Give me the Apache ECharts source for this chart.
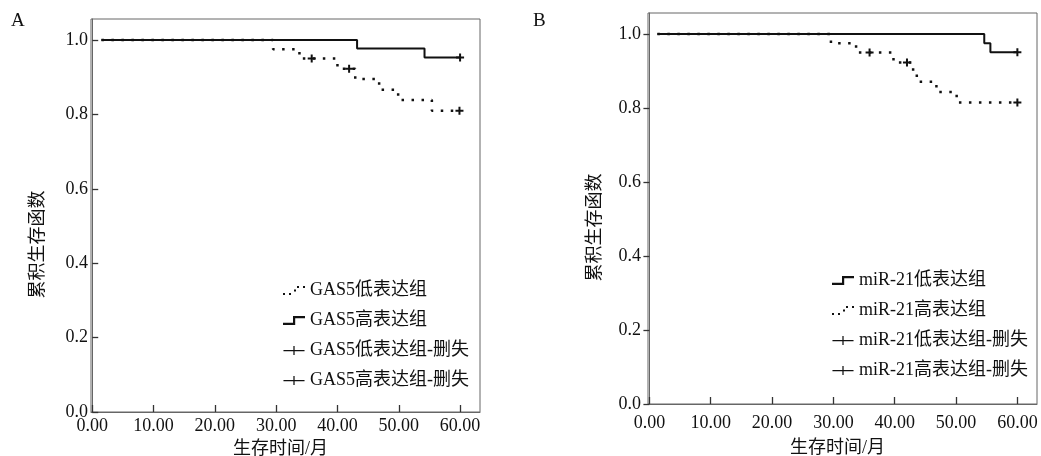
<!DOCTYPE html>
<html><head><meta charset="utf-8">
<script src="https://cdn.jsdelivr.net/npm/echarts@6/dist/echarts.min.js"></script>
<style>html,body{margin:0;padding:0;background:#fff}#c{width:1041px;height:456px}</style>
</head><body><div id="c"></div>
<script>
// ---- tick labels ----
const xTickValues = [0, 10, 20, 30, 40, 50, 60];
const yTickValues = [0, 0.2, 0.4, 0.6, 0.8, 1.0];

// ---- Panel A: GAS5 ----
const gasLowTime = [1.5, 29.5, 33.8, 40.0, 42.9, 46.8, 49.9, 55.4, 59.9];
const gasLowSurv = [1.0, 0.975, 0.950, 0.923, 0.895, 0.866, 0.839, 0.810, 0.810];
const gasHighTime = [1.5, 43.2, 54.2, 60.0];
const gasHighSurv = [1.0, 0.977, 0.953, 0.953];
const gasLowCensTime = [35.8, 41.9, 59.9];
const gasLowCensSurv = [0.950, 0.923, 0.810];
const gasHighCensTime = [60.0];
const gasHighCensSurv = [0.953];

// ---- Panel B: miR-21 ----
const mirLowTime = [1.3, 54.6, 55.6, 60.0];
const mirLowSurv = [1.0, 0.975, 0.951, 0.951];
const mirHighTime = [1.3, 29.6, 33.7, 39.8, 43.0, 43.6, 46.8, 50.1, 60.0];
const mirHighSurv = [1.0, 0.975, 0.950, 0.923, 0.897, 0.871, 0.843, 0.815, 0.815];
const mirLowCensTime = [60.0];
const mirLowCensSurv = [0.951];
const mirHighCensTime = [35.9, 42.0, 60.0];
const mirHighCensSurv = [0.950, 0.923, 0.815];

const namesA = ['GAS5低表达组', 'GAS5高表达组', 'GAS5低表达组-删失', 'GAS5高表达组-删失'];
const namesB = ['miR-21低表达组', 'miR-21高表达组', 'miR-21低表达组-删失', 'miR-21高表达组-删失'];

const FONT = "'Liberation Serif', 'Noto Sans CJK SC', serif";
const INK = '#111';
const BOX = '#666';

const zip = (a, b) => a.map((v, i) => [v, b[i]]);

const PLUS = 'path://M3,0H5V3H8V5H5V8H3V5H0V3H3Z';
const ICON_SOLID = 'path://M0,6.8H10V0H22V2.2H12.2V9H0Z';
const ICON_DOT = 'path://M0,7h2v2h-2z M6,7h2v2h-2z M11,3.5h2v2h-2z M14,0h2v2h-2z M20,0h2v2h-2z';
const ICON_CENS = 'path://M0,4.1H22V5.4H0Z M10.35,0H11.65V9.4H10.35Z';

function xAxisCfg(idx, min, max, labelMargin, nameGap) {
  return {
    type: 'value', gridIndex: idx, min: min, max: max,
    name: '生存时间/月', nameLocation: 'middle', nameGap: nameGap,
    nameTextStyle: { fontFamily: FONT, fontSize: 18, color: INK, padding: [0, 10, 0, 0] },
    axisLine: { show: true, lineStyle: { color: BOX, width: 1 } },
    axisTick: { show: true, inside: true, length: 7, customValues: xTickValues, lineStyle: { color: '#333', width: 1.3 } },
    axisLabel: { customValues: xTickValues, margin: labelMargin, fontFamily: FONT, fontSize: 18, color: INK,
      formatter: v => v.toFixed(2) },
    splitLine: { show: false }
  };
}
function yAxisCfg(idx, max, inside, labelMargin, shiftDown) {
  return {
    type: 'value', gridIndex: idx, min: 0, max: max,
    name: '累积生存函数', nameLocation: 'middle', nameGap: 44, nameRotate: 90,
    nameTextStyle: { fontFamily: FONT, fontSize: 18, color: INK, padding: [0, shiftDown * 2, 0, 0] },
    axisLine: { show: true, lineStyle: { color: BOX, width: 1 } },
    axisTick: { show: true, inside: inside, length: 6, customValues: yTickValues, lineStyle: { color: '#333', width: 1.3 } },
    axisLabel: { customValues: yTickValues, margin: labelMargin, fontFamily: FONT, fontSize: 18, color: INK,
      formatter: v => v.toFixed(1) },
    splitLine: { show: false }
  };
}
function solid(name, idx, t, s) {
  return { type: 'line', name: name, xAxisIndex: idx, yAxisIndex: idx, step: 'end', symbol: 'none',
    data: zip(t, s), lineStyle: { color: INK, width: 2 }, itemStyle: { color: INK }, z: 2 };
}
function dotted(name, idx, t, s) {
  return { type: 'line', name: name, xAxisIndex: idx, yAxisIndex: idx, step: 'end', symbol: 'none',
    data: zip(t, s), lineStyle: { color: INK, width: 2.5, type: [2.5, 7.5], cap: 'butt' }, itemStyle: { color: INK }, z: 3 };
}
function cens(name, idx, t, s) {
  return { type: 'scatter', name: name, xAxisIndex: idx, yAxisIndex: idx, symbol: PLUS, symbolSize: 8,
    data: zip(t, s), itemStyle: { color: INK, opacity: 1 }, z: 4 };
}
function legendCfg(left, top, names, icons) {
  return {
    orient: 'vertical', left: left, top: top, padding: 0, itemGap: 12, itemWidth: 22, itemHeight: 9,
    selectedMode: false, itemStyle: { borderWidth: 0, opacity: 1 },
    textStyle: { fontFamily: FONT, fontSize: 18, color: INK, lineHeight: 18 },
    data: names.map((n, i) => ({ name: n, icon: icons[i] }))
  };
}

const chart = echarts.init(document.getElementById('c'), null, { renderer: 'canvas' });
chart.setOption({
  animation: false,
  backgroundColor: '#fff',
  title: [
    { text: 'A', left: 11, top: 12, padding: 0, textStyle: { fontFamily: FONT, fontSize: 19, fontWeight: 'normal', color: INK } },
    { text: 'B', left: 533, top: 12, padding: 0, textStyle: { fontFamily: FONT, fontSize: 19, fontWeight: 'normal', color: INK } }
  ],
  grid: [
    { left: 91, top: 19, width: 389, height: 393, show: true, borderColor: BOX, borderWidth: 1,
      containLabel: false, outerBoundsMode: 'none' },
    { left: 648, top: 13, width: 389, height: 391, show: true, borderColor: BOX, borderWidth: 1,
      containLabel: false, outerBoundsMode: 'none' }
  ],
  xAxis: [ xAxisCfg(0, -0.2, 63.25, 5, 28), xAxisCfg(1, -0.23, 63.2, 10, 35) ],
  yAxis: [ yAxisCfg(0, 1.0565, true, 3, 29), yAxisCfg(1, 1.0568, false, 7, 19) ],
  legend: [
    legendCfg(283, 281.5, namesA, [ICON_DOT, ICON_SOLID, ICON_CENS, ICON_CENS]),
    legendCfg(832, 271.5, namesB, [ICON_SOLID, ICON_DOT, ICON_CENS, ICON_CENS])
  ],
  series: [
    dotted(namesA[0], 0, gasLowTime, gasLowSurv),
    solid(namesA[1], 0, gasHighTime, gasHighSurv),
    cens(namesA[2], 0, gasLowCensTime, gasLowCensSurv),
    cens(namesA[3], 0, gasHighCensTime, gasHighCensSurv),
    solid(namesB[0], 1, mirLowTime, mirLowSurv),
    dotted(namesB[1], 1, mirHighTime, mirHighSurv),
    cens(namesB[2], 1, mirLowCensTime, mirLowCensSurv),
    cens(namesB[3], 1, mirHighCensTime, mirHighCensSurv)
  ]
});
</script></body></html>
